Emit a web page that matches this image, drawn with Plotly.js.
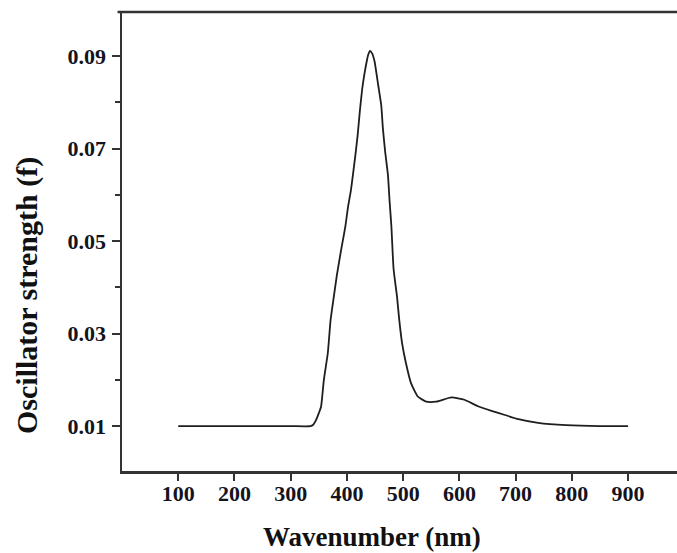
<!DOCTYPE html>
<html>
<head>
<meta charset="utf-8">
<script src="https://cdn.plot.ly/plotly-3.0.1.min.js"></script>
<style>
html,body{margin:0;padding:0;background:#fff;}
#chart{width:677px;height:553px;}
</style>
</head>
<body>
<div id="chart"></div>
<script>
// Wavelength (nm) and oscillator strength
var wavelength = [100, 200, 300, 335, 340, 345, 350, 354, 359, 366, 371, 376, 382, 389, 397, 402, 407, 411, 415, 419, 423, 427, 431, 435, 438, 441, 445, 449, 456, 461, 464, 468, 473, 476, 479, 483, 489, 493, 498, 505, 514, 526, 541, 559, 586, 609, 633, 657, 681, 705, 740, 790, 850, 900];
var strength = [0.0100, 0.0100, 0.0100, 0.0100, 0.0103, 0.0113, 0.0128, 0.0142, 0.0200, 0.0258, 0.0330, 0.0374, 0.0425, 0.0476, 0.0530, 0.0574, 0.0609, 0.0646, 0.0685, 0.0728, 0.0781, 0.0827, 0.0860, 0.0887, 0.0903, 0.0911, 0.0905, 0.0889, 0.0834, 0.0794, 0.0743, 0.0693, 0.0642, 0.0584, 0.0533, 0.0439, 0.0381, 0.0330, 0.0280, 0.0236, 0.0193, 0.0164, 0.0153, 0.0153, 0.0162, 0.0157, 0.0143, 0.0133, 0.0124, 0.0115, 0.0107, 0.0102, 0.0100, 0.0100];
var xTickVals = [100, 200, 300, 400, 500, 600, 700, 800, 900];
var yTickVals = [0.01, 0.03, 0.05, 0.07, 0.09];
var yTickText = ['0.01', '0.03', '0.05', '0.07', '0.09'];
var yMinorVals = [0.0, 0.02, 0.04, 0.06, 0.08];
var xTitle = 'Wavenumber (nm)';
var yTitle = 'Oscillator strength (f)';

var serif = '"Liberation Serif", "Times New Roman", serif';
var axisColor = '#333333';

var trace = {
  x: wavelength,
  y: strength,
  type: 'scatter',
  mode: 'lines',
  line: {color: '#1e1e1e', width: 1.8, shape: 'spline', smoothing: 0.5},
  hoverinfo: 'skip'
};

var layout = {
  width: 677,
  height: 553,
  margin: {l: 122, r: 0, t: 12, b: 82, pad: 0},
  paper_bgcolor: '#ffffff',
  plot_bgcolor: '#ffffff',
  showlegend: false,
  xaxis: {
    range: [0, 987],
    tickvals: xTickVals,
    ticktext: xTickVals.map(String),
    ticks: 'outside',
    ticklen: 7,
    tickwidth: 2,
    tickcolor: axisColor,
    showline: true,
    linecolor: axisColor,
    linewidth: 2.5,
    mirror: false,
    showgrid: false,
    zeroline: false,
    tickfont: {family: serif, size: 22, color: '#141420', weight: 'bold'},
    ticklabelstandoff: -6
  },
  yaxis: {
    range: [0.0003, 0.0995],
    tickvals: yTickVals,
    ticktext: yTickText,
    ticks: 'outside',
    ticklen: 8,
    tickwidth: 2,
    tickcolor: axisColor,
    minor: {tickvals: yMinorVals, ticks: 'outside', ticklen: 5, tickwidth: 2, tickcolor: axisColor, showgrid: false},
    showline: true,
    linecolor: axisColor,
    linewidth: 2.5,
    showgrid: false,
    zeroline: false,
    tickfont: {family: serif, size: 22, color: '#141420', weight: 'bold'},
    ticklabelstandoff: 1
  },
  shapes: [
    {type: 'line', xref: 'paper', yref: 'paper', x0: -0.008, x1: 1.01, y0: 1, y1: 1,
     line: {color: axisColor, width: 2.5}}
  ],
  annotations: [
    {
      text: xTitle, xref: 'paper', yref: 'paper',
      x: (372 - 122) / 555, y: (471 - 537) / 459,
      xanchor: 'center', yanchor: 'middle', showarrow: false,
      font: {family: serif, size: 27, color: '#111111', weight: 'bold'}
    },
    {
      text: yTitle, xref: 'paper', yref: 'paper',
      x: (27 - 122) / 555, y: (471 - 296) / 459,
      xanchor: 'center', yanchor: 'middle', showarrow: false, textangle: -90,
      font: {family: serif, size: 30, color: '#111111', weight: 'bold'}
    }
  ]
};

Plotly.newPlot('chart', [trace], layout, {displayModeBar: false, staticPlot: true});
</script>
</body>
</html>
